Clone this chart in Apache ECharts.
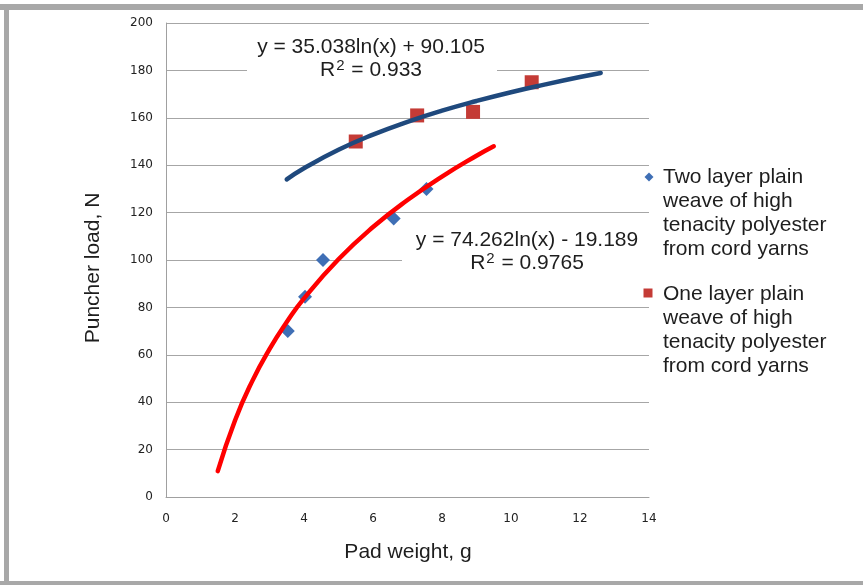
<!DOCTYPE html>
<html>
<head>
<meta charset="utf-8">
<script src="https://cdn.jsdelivr.net/npm/echarts@6/dist/echarts.min.js"></script>
<style>
html,body{margin:0;padding:0;background:#fff;}
#chart{width:863px;height:585px;}
</style>
</head>
<body>
<div id="chart"></div>
<script>
// Data
const twoLayerX = [3.53, 4.03, 4.55, 6.6, 7.55];
const twoLayerY = [70, 84.5, 100, 117.5, 130];
const oneLayerX = [5.5, 7.28, 8.9, 10.6];
const oneLayerY = [150, 161, 162.5, 175];
// Trendlines as drawn
const twoLayerTrendX = [1.5, 2, 2.5, 3, 3.5, 4, 5, 6, 7, 8, 9, 9.5];
const twoLayerTrendY = [10.9, 32.3, 48.9, 62.4, 73.8, 83.8, 100.3, 113.9, 125.3, 135.2, 144.0, 148.0];
const oneLayerTrendX = [3.5, 4, 5, 6, 7, 8, 9, 10, 11, 12, 12.6];
const oneLayerTrendY = [134.0, 138.7, 146.5, 152.9, 158.3, 163.0, 167.1, 170.8, 174.1, 177.2, 178.9];

const seriesNames = [
  'Two layer plain\nweave of high\ntenacity polyester\nfrom cord yarns',
  'One layer plain\nweave of high\ntenacity polyester\nfrom cord yarns'
];
const eq1 = ['y = 35.038ln(x) + 90.105', '0.933'];
const eq2 = ['y = 74.262ln(x) - 19.189', '0.9765'];
const xAxisName = 'Pad weight, g';
const yAxisName = 'Puncher load, N';

const zip = (a, b) => a.map((v, i) => [v, b[i]]);

const FONT = '"Liberation Sans", Arial, sans-serif';
const chart = echarts.init(document.getElementById('chart'), null, {renderer: 'canvas'});

function eqGraphic(lines, cx, y1, y2, box) {
  return [
    {type: 'rect', z: 50, shape: box, style: {fill: '#fff'}},
    {type: 'text', z: 51, x: cx, y: y1, style: {text: lines[0], font: '21px ' + FONT, fill: '#1e1e1e', align: 'center', verticalAlign: 'middle'}},
    {type: 'text', z: 51, x: cx, y: y2, style: {
      text: '{a|R}{s|2}{a| = ' + lines[1] + '}',
      align: 'center', verticalAlign: 'middle',
      rich: {
        a: {fontSize: 21, fontFamily: FONT, fill: '#1e1e1e', lineHeight: 24},
        s: {fontSize: 15, fontFamily: FONT, fill: '#1e1e1e', verticalAlign: 'top', lineHeight: 24, padding: [0, 1, 0, 1]}
      }
    }}
  ];
}

const option = {
  backgroundColor: '#fff',
  animation: false,
  grid: {left: 166, top: 23, right: 214, bottom: 88, containLabel: false},
  xAxis: {
    type: 'value', min: 0, max: 14, interval: 2,
    axisLine: {show: true, lineStyle: {color: '#a0a0a0', width: 1}},
    axisTick: {show: false},
    splitLine: {show: false},
    axisLabel: {fontFamily: 'DejaVu Sans', fontSize: 12, color: '#222', margin: 16}
  },
  yAxis: {
    type: 'value', min: 0, max: 200, interval: 20,
    axisLine: {show: true, lineStyle: {color: '#a0a0a0', width: 1}},
    axisTick: {show: false},
    splitLine: {show: true, lineStyle: {color: '#a6a6a6', width: 1}},
    axisLabel: {fontFamily: 'DejaVu Sans', fontSize: 12, color: '#222', margin: 13}
  },
  series: [
    {
      name: seriesNames[0], type: 'scatter', symbol: 'diamond', symbolSize: 14,
      itemStyle: {color: '#3f6fb5', opacity: 1}, z: 2,
      data: zip(twoLayerX, twoLayerY)
    },
    {
      name: seriesNames[1], type: 'scatter', symbol: 'rect', symbolSize: 14,
      itemStyle: {color: '#c43b36', opacity: 1}, z: 2,
      data: zip(oneLayerX, oneLayerY)
    },
    {
      name: 'trend2', type: 'line', smooth: true, showSymbol: false, symbol: 'none', z: 3,
      lineStyle: {color: '#ff0000', width: 4.5, cap: 'round'},
      data: zip(twoLayerTrendX, twoLayerTrendY)
    },
    {
      name: 'trend1', type: 'line', smooth: true, showSymbol: false, symbol: 'none', z: 3,
      lineStyle: {color: '#1f497d', width: 4.5, cap: 'round'},
      data: zip(oneLayerTrendX, oneLayerTrendY)
    }
  ],
  graphic: [
    // frame
    {type: 'rect', z: 0, shape: {x: 0, y: 4, width: 863, height: 6}, style: {fill: '#a8a8a8'}},
    {type: 'rect', z: 0, shape: {x: 4, y: 4, width: 5, height: 581}, style: {fill: '#a8a8a8'}},
    {type: 'rect', z: 0, shape: {x: 0, y: 581, width: 863, height: 4}, style: {fill: '#a8a8a8'}},
    ...eqGraphic(eq1, 371, 47, 70, {x: 247, y: 32, width: 250, height: 52}),
    ...eqGraphic(eq2, 527, 240, 263, {x: 402, y: 228, width: 250, height: 48}),
    // axis names
    {type: 'text', z: 51, x: 408, y: 552, style: {text: xAxisName, font: '21px ' + FONT, fill: '#1e1e1e', align: 'center', verticalAlign: 'middle'}},
    {type: 'text', z: 51, x: 93, y: 268, rotation: Math.PI / 2, style: {text: yAxisName, font: '21px ' + FONT, fill: '#1e1e1e', align: 'center', verticalAlign: 'middle'}},
    // legend
    {type: 'polygon', z: 51, shape: {points: [[649, 172.5], [653.5, 177], [649, 181.5], [644.5, 177]]}, style: {fill: '#3f6fb5'}},
    {type: 'text', z: 51, x: 663, y: 165, style: {text: seriesNames[0], font: '21px ' + FONT, lineHeight: 24, fill: '#1e1e1e', align: 'left', verticalAlign: 'top'}},
    {type: 'rect', z: 51, shape: {x: 643.5, y: 288.5, width: 9, height: 9}, style: {fill: '#c43b36'}},
    {type: 'text', z: 51, x: 663, y: 282, style: {text: seriesNames[1], font: '21px ' + FONT, lineHeight: 24, fill: '#1e1e1e', align: 'left', verticalAlign: 'top'}}
  ]
};
chart.setOption(option);
</script>
</body>
</html>
